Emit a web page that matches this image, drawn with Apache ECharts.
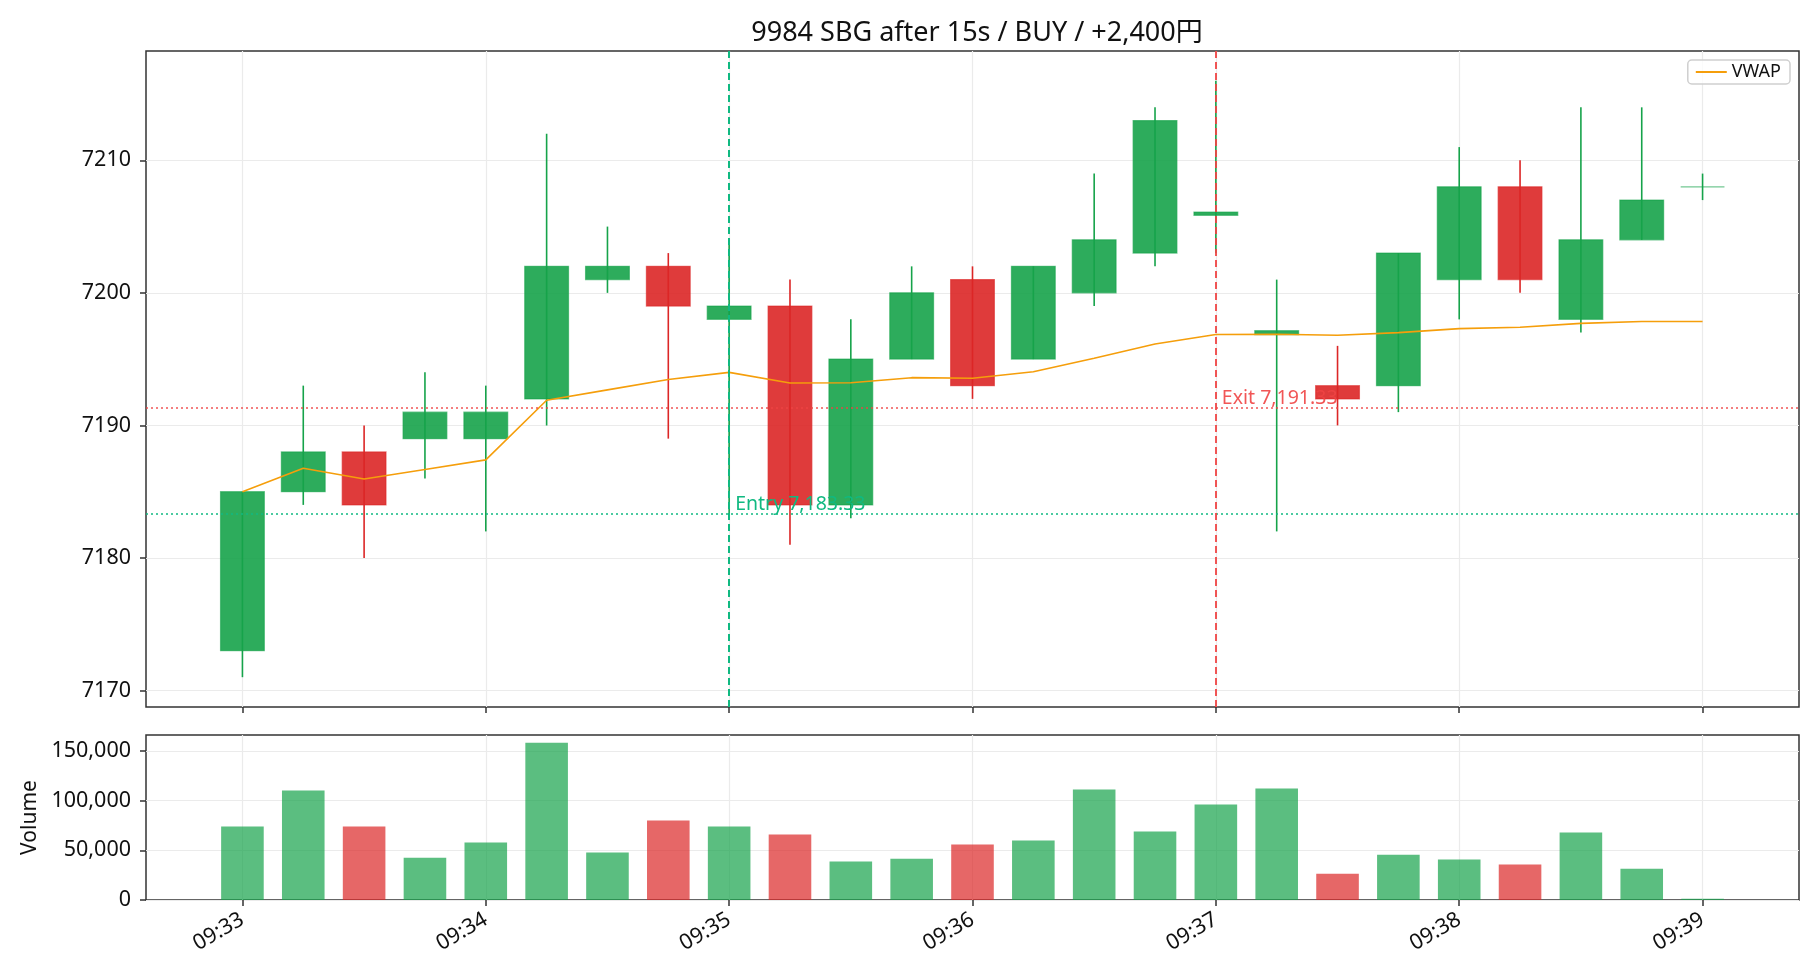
<!DOCTYPE html>
<html>
<head>
<meta charset="utf-8">
<title>9984 SBG</title>
<script src="https://cdn.jsdelivr.net/npm/echarts@6/dist/echarts.min.js"></script>
<style>
html,body{margin:0;padding:0;background:#fff;}
#chart{width:1820px;height:980px;}
</style>
</head>
<body>
<div id="chart"></div>
<script>
// 15秒足
var times = ['09:33:00','09:33:15','09:33:30','09:33:45','09:34:00','09:34:15','09:34:30','09:34:45',
	'09:35:00','09:35:15','09:35:30','09:35:45','09:36:00','09:36:15','09:36:30','09:36:45',
	'09:37:00','09:37:15','09:37:30','09:37:45','09:38:00','09:38:15','09:38:30','09:38:45','09:39:00'];
var opens  = [7173,7185,7188,7189,7189,7192,7201,7202,7198,7199,7184,7195,7201,7195,7200,7203,7205.85,7196.85,7193,7193,7201,7208,7198,7204,7208];
var closes = [7185,7188,7184,7191,7191,7202,7202,7199,7199,7184,7195,7200,7193,7202,7204,7213,7206.1,7197.15,7192,7203,7208,7201,7204,7207,7208];
var lows   = [7171,7184,7180,7186,7182,7190,7200,7189,7183,7181,7183,7195,7192,7195,7199,7202,7203,7182,7190,7191,7198,7200,7197,7204,7207];
var highs  = [7185,7193,7190,7194,7193,7212,7205,7203,7204,7201,7198,7202,7202,7202,7209,7214,7216,7201,7196,7203,7211,7210,7214,7214,7209];
var vwap   = [7185.0,7186.76,7185.95,7186.67,7187.4,7191.9,7192.68,7193.46,7194.0,7193.2,7193.22,7193.6,7193.56,
	7194.05,7195.07,7196.14,7196.86,7196.88,7196.8,7197.0,7197.3,7197.4,7197.7,7197.84,7197.84];
var volumes = [74000,110000,74000,42600,57700,158000,47700,79900,74000,65800,38600,41600,55700,59700,
	111100,68800,96000,112100,26500,45600,40600,35600,67800,31500,1300];

// 目盛り
var tickIndex  = [0,4,8,12,16,20,24];
var tickLabels = ['09:33','09:34','09:35','09:36','09:37','09:38','09:39'];
var priceTicks  = [7170,7180,7190,7200,7210];
var volumeTicks = [0,50000,100000,150000];

// エントリー / イグジット
var entryIndex = 8,  entryPrice = 7183.33, entryText = 'Entry 7,183.33';
var exitIndex  = 16, exitPrice  = 7191.33, exitText  = 'Exit 7,191.33';

var titleText = '9984 SBG after 15s / BUY / +2,400円';

var FONT = '"Noto Sans", "Noto Sans CJK JP", sans-serif';
var UP = '#16a34a', DOWN = '#dc2626';
var ENTRY_C = '#10b981', EXIT_C = '#ef4444', VWAP_C = '#f59e0b';

function isUp(i){
	return closes[i] >= opens[i];
}

function fmtComma(v){
	return String(v).replace(/\B(?=(\d{3})+(?!\d))/g, ',');
}

function fmtPlain(v){
	return String(v);
}

function timeLabel(v){
	var k = tickIndex.indexOf(v);
	return k < 0 ? '' : tickLabels[k];
}

function renderCandle(params, api){
	var x = api.value(0);
	var o = api.value(1), c = api.value(2), l = api.value(3), h = api.value(4);
	var pO = api.coord([x, o]), pC = api.coord([x, c]);
	var pL = api.coord([x, l]), pH = api.coord([x, h]);
	var w = api.size([0.72, 0])[0];
	var up = c >= o;
	var top = Math.min(pO[1], pC[1]);
	var bh = Math.abs(pO[1] - pC[1]);
	return {
		type: 'group',
		children: [{
			type: 'rect',
			shape: {x: pO[0] - w / 2, y: top, width: w, height: bh},
			style: {
				fill: up ? 'rgba(22,163,74,0.9)' : 'rgba(220,38,38,0.9)',
				stroke: up ? 'rgba(22,163,74,0.6)' : 'rgba(220,38,38,0.6)',
				lineWidth: 1.2
			}
		}, {
			type: 'line',
			shape: {x1: pH[0], y1: pH[1], x2: pL[0], y2: pL[1]},
			style: {stroke: up ? UP : DOWN, lineWidth: 1.6}
		}]
	};
}

function renderVolume(params, api){
	var x = api.value(0), v = api.value(1);
	var p0 = api.coord([x, 0]), p1 = api.coord([x, v]);
	var w = api.size([0.7, 0])[0];
	var up = isUp(params.dataIndex);
	return {
		type: 'rect',
		shape: {x: p0[0] - w / 2, y: p1[1], width: w, height: p0[1] - p1[1]},
		style: {fill: up ? 'rgba(22,163,74,0.7)' : 'rgba(220,38,38,0.7)'}
	};
}

var candleData = [], volumeData = [], vwapData = [];
for(var i = 0; i < times.length; i++){
	candleData.push([i, opens[i], closes[i], lows[i], highs[i]]);
	volumeData.push([i, volumes[i]]);
	vwapData.push([i, vwap[i]]);
}
var volMax = Math.max.apply(null, volumes) * 1.05;

var axisTickStyle = {lineStyle: {color: '#333', width: 1.5}, length: 6};
var labelStyle = {color: '#111', fontSize: 21.5, fontFamily: FONT};
var splitStyle = {show: true, lineStyle: {color: '#ebebeb', width: 1.2}};
var noLine = {show: false, onZero: false};

var chart = echarts.init(document.getElementById('chart'));
var option = {
	animation: false,
	backgroundColor: '#fff',
	textStyle: {fontFamily: FONT},
	title: {
		text: titleText,
		left: 972,
		textAlign: 'center',
		top: 15,
		textStyle: {fontSize: 27, fontWeight: 'normal', color: '#111', fontFamily: FONT}
	},
	legend: {
		right: 30,
		top: 60,
		data: ['VWAP'],
		itemWidth: 31,
		itemHeight: 2,
		itemGap: 5,
		padding: [3, 9, 3, 7],
		borderColor: '#cfcfcf',
		borderWidth: 1.5,
		borderRadius: 4,
		backgroundColor: 'rgba(255,255,255,0.8)',
		textStyle: {fontSize: 18, color: '#111', fontFamily: FONT}
	},
	grid: [
		{left: 146, right: 21, top: 51, height: 656, show: true, borderColor: '#333', borderWidth: 1.5, backgroundColor: 'transparent'},
		{left: 146, right: 21, top: 735, height: 165, show: true, borderColor: '#333', borderWidth: 1.5, backgroundColor: 'transparent'}
	],
	xAxis: [{
		type: 'value', gridIndex: 0, min: -1.585, max: 25.585,
		axisLine: noLine,
		axisTick: Object.assign({show: true, customValues: tickIndex}, axisTickStyle),
		axisLabel: {show: false, customValues: tickIndex},
		splitLine: splitStyle
	}, {
		type: 'value', gridIndex: 1, min: -1.585, max: 25.585,
		axisLine: noLine,
		axisTick: Object.assign({show: true, customValues: tickIndex}, axisTickStyle),
		axisLabel: Object.assign({customValues: tickIndex, rotate: 30, margin: 18, formatter: timeLabel}, labelStyle),
		splitLine: splitStyle
	}],
	yAxis: [{
		type: 'value', gridIndex: 0, min: 7168.75, max: 7218.25,
		axisLine: noLine,
		axisTick: Object.assign({show: true, customValues: priceTicks}, axisTickStyle),
		axisLabel: Object.assign({customValues: priceTicks, margin: 15, formatter: fmtPlain}, labelStyle),
		splitLine: splitStyle
	}, {
		type: 'value', gridIndex: 1, min: 0, max: volMax,
		name: 'Volume', nameLocation: 'middle', nameGap: 101, nameRotate: 90,
		nameTextStyle: {fontSize: 21, color: '#111', fontFamily: FONT},
		axisLine: noLine,
		axisTick: Object.assign({show: true, customValues: volumeTicks}, axisTickStyle),
		axisLabel: Object.assign({customValues: volumeTicks, margin: 15, formatter: fmtComma}, labelStyle),
		splitLine: splitStyle
	}],
	series: [{
		name: 'candle',
		type: 'custom',
		xAxisIndex: 0, yAxisIndex: 0,
		renderItem: renderCandle,
		encode: {x: 0, y: [1, 2, 3, 4]},
		data: candleData,
		z: 2
	}, {
		name: 'VWAP',
		type: 'line',
		xAxisIndex: 0, yAxisIndex: 0,
		data: vwapData,
		symbol: 'none',
		lineStyle: {color: VWAP_C, width: 1.6},
		itemStyle: {color: VWAP_C},
		z: 3
	}, {
		name: 'marks',
		type: 'line',
		xAxisIndex: 0, yAxisIndex: 0,
		data: [],
		z: 4,
		markLine: {
			silent: true,
			symbol: 'none',
			label: {show: false},
			data: [
				{yAxis: entryPrice, lineStyle: {color: ENTRY_C, type: [2, 3], width: 1.6}},
				{yAxis: exitPrice, lineStyle: {color: EXIT_C, type: [2, 3], width: 1.6, opacity: 0.9}},
				{xAxis: entryIndex, lineStyle: {color: ENTRY_C, type: [7, 4], width: 2}},
				{xAxis: exitIndex, lineStyle: {color: EXIT_C, type: [7, 4], width: 2, opacity: 0.9}}
			]
		},
		markPoint: {
			silent: true,
			symbolSize: 0,
			data: [
				{name: entryText, coord: [entryIndex, entryPrice],
					label: {color: ENTRY_C}},
				{name: exitText, coord: [exitIndex, exitPrice],
					label: {color: EXIT_C, opacity: 0.9}}
			],
			label: {
				show: true,
				formatter: '{b}',
				position: [6, 0],
				align: 'left',
				verticalAlign: 'bottom',
				fontSize: 19.5,
				fontFamily: FONT
			}
		}
	}, {
		name: 'volume',
		type: 'custom',
		xAxisIndex: 1, yAxisIndex: 1,
		renderItem: renderVolume,
		encode: {x: 0, y: 1},
		data: volumeData
	}]
};
chart.setOption(option);
</script>
</body>
</html>
